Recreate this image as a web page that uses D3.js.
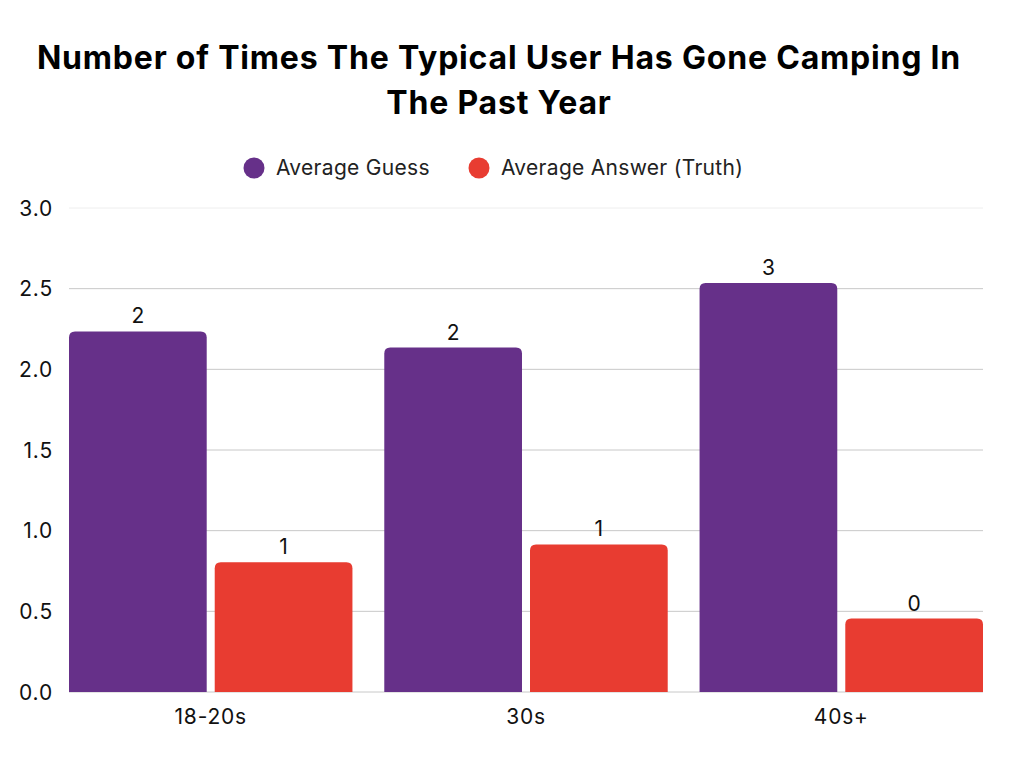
<!DOCTYPE html>
<html><head><meta charset="utf-8">
<script src="https://cdn.jsdelivr.net/npm/d3@7"></script>
<style>body{margin:0;background:#fff;}svg{display:block;}</style>
</head><body>
<svg id="c" width="1024" height="768"></svg>
<script>
const categories = ["18-20s", "30s", "40s+"];
const seriesNames = ["Average Guess", "Average Answer (Truth)"];
const guessValues = [2.235, 2.135, 2.535];
const truthValues = [0.805, 0.915, 0.455];
const valueLabels = [["2","1"],["2","1"],["3","0"]];
const yTicks = [0, 0.5, 1.0, 1.5, 2.0, 2.5, 3.0];
const colors = ["#663089", "#e83c31"];

(function(){
const svg = d3.select("#c");
const font = "Inter, 'Open Sans', sans-serif";
const pLeft = 69, pRight = 983, pTop = 208, pBottom = 692;

// title
const title = svg.append("text").attr("text-anchor","middle").attr("font-family",font)
  .attr("font-weight","700").attr("font-size",32).attr("letter-spacing",0.8).attr("fill","#000");
title.append("tspan").attr("x",499).attr("y",69).text("Number of Times The Typical User Has Gone Camping In");
title.append("tspan").attr("x",499).attr("y",114).text("The Past Year");

// legend
const legend = [{x:254,tx:276},{x:479,tx:501}];
seriesNames.forEach((n,i)=>{
  svg.append("circle").attr("cx",legend[i].x).attr("cy",168).attr("r",10.5).attr("fill",colors[i]);
  svg.append("text").attr("x",legend[i].tx).attr("y",175).attr("font-family",font)
    .attr("font-size",21).attr("letter-spacing",0.3).attr("fill","#222").text(n);
});

const y = d3.scaleLinear().domain([0,3]).range([pBottom, pTop]);
const x0 = d3.scaleBand().domain(categories).range([pLeft, pRight]).paddingInner(0.101).paddingOuter(0);
const x1 = d3.scaleBand().domain([0,1]).range([0, x0.bandwidth()]).paddingInner(0.055);

// gridlines
svg.append("g").selectAll("line").data(yTicks).join("line")
  .attr("x1",pLeft).attr("x2",pRight).attr("y1",d=>y(d)).attr("y2",d=>y(d))
  .attr("stroke",d=>d===3?"#eeeeee":"#c8c8c8").attr("stroke-width",1);

// y axis labels
svg.append("g").selectAll("text").data(yTicks).join("text")
  .attr("x",53).attr("y",d=>y(d)+7.5).attr("text-anchor","end")
  .attr("font-family",font).attr("font-size",21).attr("letter-spacing",0.8).attr("fill","#111")
  .text(d=>d3.format(".1f")(d));

// bars
const r = 6;
function barPath(x, w, yT, yB){
  const rr = Math.min(r, (yB-yT));
  return `M${x},${yB}V${yT+rr}Q${x},${yT} ${x+rr},${yT}H${x+w-rr}Q${x+w},${yT} ${x+w},${yT+rr}V${yB}Z`;
}
const data = categories.map((c,i)=>({c, vals:[guessValues[i], truthValues[i]], labels: valueLabels[i]}));
const g = svg.append("g");
data.forEach(d=>{
  d.vals.forEach((v,j)=>{
    const bx = x0(d.c)+x1(j), bw = x1.bandwidth();
    g.append("path").attr("d", barPath(bx, bw, y(v), y(0))).attr("fill", colors[j]);
    g.append("text").attr("x", bx+bw/2).attr("y", y(v)-8).attr("text-anchor","middle")
      .attr("font-family",font).attr("font-size",21).attr("fill","#111").text(d.labels[j]);
  });
});

// x labels
svg.append("g").selectAll("text").data(categories).join("text")
  .attr("x",d=>x0(d)+x0.bandwidth()/2).attr("y",724).attr("text-anchor","middle")
  .attr("font-family",font).attr("font-size",21).attr("letter-spacing",0.8).attr("fill","#111").text(d=>d);
})();
</script>
</body></html>
